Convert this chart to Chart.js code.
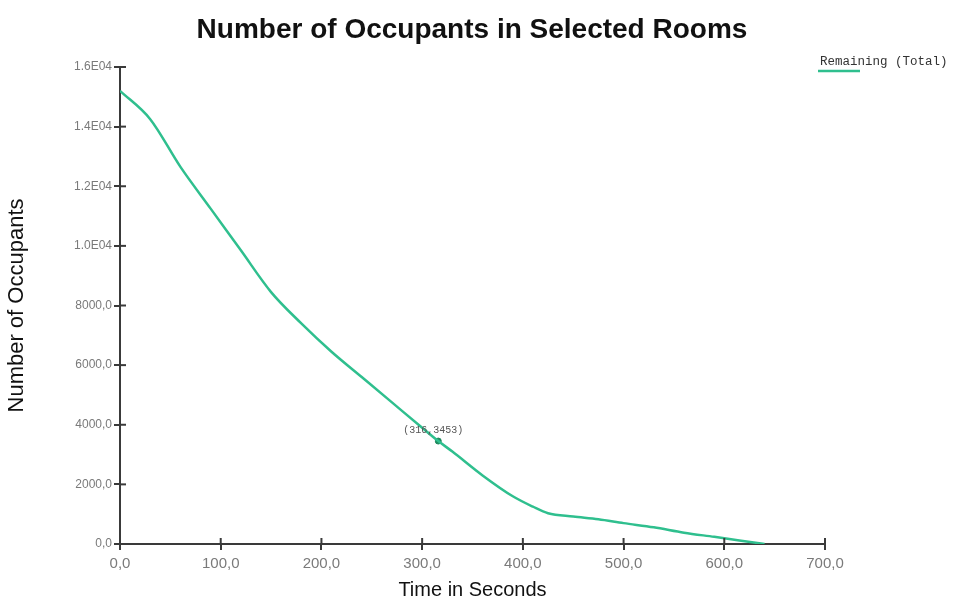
<!DOCTYPE html>
<html>
<head>
<meta charset="utf-8">
<script src="https://cdn.jsdelivr.net/npm/chart.js@4/dist/chart.umd.min.js"></script>
<style>
  html, body { margin: 0; padding: 0; background: #fff; }
  #wrap { width: 957px; height: 599px; }
</style>
</head>
<body>
<div id="wrap"><canvas id="occChart" width="957" height="599"></canvas></div>
<script>
/* ── data ── */
const timeSeconds = [0, 30, 60, 90, 120, 150, 180, 210, 240, 270, 300, 316, 330, 360, 390, 410, 425, 450, 475, 500, 530, 560, 590, 615, 640];
const occupantsRemaining = [15200, 14250, 12650, 11250, 9850, 8450, 7400, 6450, 5600, 4750, 3900, 3453, 3100, 2300, 1600, 1250, 1030, 920, 830, 700, 560, 380, 240, 120, 0];
const markerTime  = [316];
const markerValue = [3453];
const seriesLabel = 'Remaining (Total)';

const GREEN = '#2fbf8e';
const AXIS  = '#3a3a3a';
const TICK_TXT = '#7a7a7a';

function fmtComma(v) { return v.toFixed(1).replace('.', ','); }
function fmtY(v) { return v >= 10000 ? (v / 10000).toFixed(1) + 'E04' : fmtComma(v); }

/* ── extras: title, inward ticks, marker label, legend ── */
const extras = {
  id: 'extras',
  afterDraw(chart) {
    const { ctx, chartArea, scales } = chart;
    const x = scales.x, y = scales.y;
    ctx.save();

    // title
    ctx.fillStyle = '#111';
    ctx.font = 'bold 28px "Liberation Sans", Arial, sans-serif';
    ctx.textAlign = 'center';
    ctx.textBaseline = 'middle';
    ctx.fillText('Number of Occupants in Selected Rooms', 472, 30);

    // inward tick marks
    ctx.strokeStyle = AXIS;
    ctx.lineWidth = 2;
    x.ticks.forEach(t => {
      const px = x.getPixelForValue(t.value);
      ctx.beginPath(); ctx.moveTo(px, chartArea.bottom); ctx.lineTo(px, chartArea.bottom - 6); ctx.stroke();
    });
    y.ticks.forEach(t => {
      const py = y.getPixelForValue(t.value);
      ctx.beginPath(); ctx.moveTo(chartArea.left, py); ctx.lineTo(chartArea.left + 6, py); ctx.stroke();
    });

    // marker label
    const mx = x.getPixelForValue(markerTime[0]);
    const my = y.getPixelForValue(markerValue[0]);
    ctx.fillStyle = '#555';
    ctx.font = '10px "Liberation Mono", "DejaVu Sans Mono", monospace';
    ctx.textAlign = 'center';
    ctx.textBaseline = 'alphabetic';
    ctx.fillText('(' + markerTime[0] + ',' + markerValue[0] + ')', mx - 5, my - 8);

    // legend
    ctx.strokeStyle = GREEN;
    ctx.lineWidth = 2.5;
    ctx.beginPath(); ctx.moveTo(818, 71); ctx.lineTo(860, 71); ctx.stroke();
    ctx.fillStyle = '#333';
    ctx.font = '12.5px "Liberation Mono", "DejaVu Sans Mono", monospace';
    ctx.textAlign = 'left';
    ctx.fillText(seriesLabel, 820, 65);

    ctx.restore();
  }
};

Chart.defaults.font.family = '"Liberation Sans", Arial, sans-serif';

new Chart(document.getElementById('occChart'), {
  type: 'line',
  data: {
    datasets: [
      {
        label: seriesLabel,
        data: timeSeconds.map((t, i) => ({ x: t, y: occupantsRemaining[i] })),
        borderColor: GREEN,
        borderWidth: 2.5,
        pointRadius: 0,
        cubicInterpolationMode: 'monotone',
        fill: false,
      },
      {
        label: 'marker',
        data: markerTime.map((t, i) => ({ x: t, y: markerValue[i] })),
        showLine: false,
        pointRadius: 3,
        pointBackgroundColor: '#1f8a5e',
        pointBorderColor: '#1f8a5e',
      },
    ],
  },
  options: {
    responsive: false,
    animation: false,
    layout: { padding: { top: 67, right: 132, bottom: 0, left: 0 } },
    plugins: { legend: { display: false }, title: { display: false }, tooltip: { enabled: false } },
    scales: {
      x: {
        type: 'linear', min: 0, max: 700,
        afterFit: s => { s.height = 55; },
        border: { color: AXIS, width: 2 },
        grid: { drawOnChartArea: false, color: AXIS, lineWidth: 2, tickLength: 6 },
        ticks: { stepSize: 100, color: TICK_TXT, font: { size: 15 }, padding: 5, maxRotation: 0, callback: v => fmtComma(v) },
        title: { display: true, text: 'Time in Seconds', color: '#111', font: { size: 20 }, padding: { top: 0, bottom: -3 } },
      },
      y: {
        min: 0, max: 16000,
        afterFit: s => { s.width = 120; },
        border: { color: AXIS, width: 2 },
        grid: { drawOnChartArea: false, color: AXIS, lineWidth: 2, tickLength: 6 },
        ticks: { stepSize: 2000, color: TICK_TXT, font: { size: 12 }, padding: 2, callback: v => fmtY(v) },
        title: { display: true, text: 'Number of Occupants', color: '#111', font: { size: 22 }, padding: { top: 4, bottom: 2 } },
      },
    },
  },
  plugins: [extras],
});
</script>
</body>
</html>
